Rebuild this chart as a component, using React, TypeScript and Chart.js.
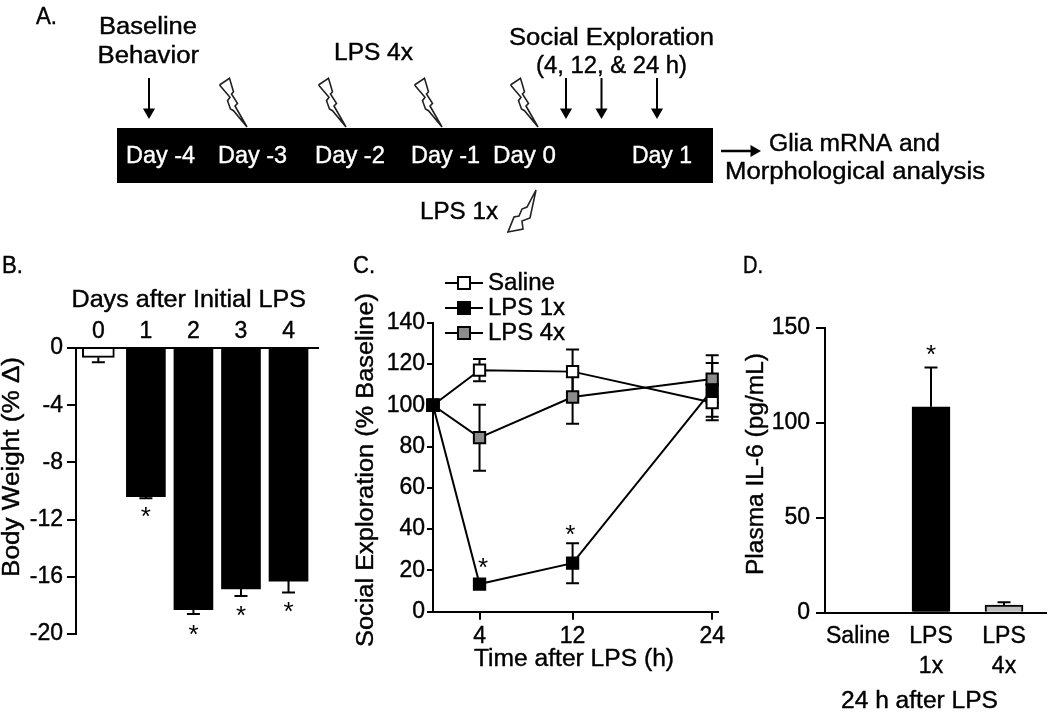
import React, { useEffect, useRef } from "react";
import { Chart, registerables } from "chart.js";

Chart.register(...registerables);
Chart.defaults.font.family = "'Liberation Sans', Arial, sans-serif";
Chart.defaults.color = "#000";

// ---------- data ----------
const bodyWeightDays = [0, 1, 2, 3, 4];
const bodyWeightMean = [-0.65, -10.4, -18.3, -16.85, -16.3];
const bodyWeightErrEnd = [-1.0, -10.5, -18.6, -17.35, -17.1];
const bodyWeightTicks = [0, -4, -8, -12, -16, -20];
const bodyWeightStars = [[1, -11.54], [2, -19.8], [3, -18.44], [4, -18.2]];

const hours = [0, 4, 12, 24];
const salineMean = [100, 117, 116.3, 101.3];
const salineSem = [0, 5.4, 10.7, 8.5];
const lps1xMean = [100, 13.4, 23.5, 107.5];
const lps1xSem = [0, 2, 9.7, 13];
const lps4xMean = [100, 84.3, 104, 112.7];
const lps4xSem = [0, 16, 13, 11.5];
const socialTicks = [0, 20, 40, 60, 80, 100, 120, 140];
const hourTicks = [4, 12, 24];
const socialStars = [[4.3, 23], [11.8, 39]];

const il6Groups = [["Saline"], ["LPS", "1x"], ["LPS", "4x"]];
const il6Index = [0, 1, 2];
const il6Mean = [0, 108.4, 4];
const il6ErrEnd = [0, 129, 5.5];
const il6Ticks = [0, 50, 100, 150];
const il6Stars = [[1, 137.9]];

// schematic of panel A, in page units
const timelineSpan = [117, 713];
const timelineRow = 155.5;
const behaviourArrows = [149, 566, 601.5, 657];
const boltTips = [247, 346, 442, 538];
const boltOutline = [[-27.5, -42], [-17.5, -48.7], [-13.5, -35.3], [-15.5, -33], [-9.5, -23.7], [-12, -21], [0, 0], [-13.5, -16.3], [-16.5, -18], [-19.5, -26.3], [-17, -29.7], [-27.5, -42]];
const lps1xBolt = [[536, 190], [527, 207], [522, 209], [519, 216], [514, 217], [508, 232], [523, 229], [522, 221], [530, 218], [536, 190]];
const outcomeArrow = [[721, 151], [754, 151]];

// ---------- helpers ----------
type Txt = { t: string; x0?: number; x1?: number; base: number; size?: number; color?: string; y0?: number; y1?: number };

const textPlugin = {
  id: "figureText",
  afterDatasetsDraw(chart: any, _a: any, opts: any) {
    const ctx = chart.ctx;
    (opts.items || []).forEach((it: Txt) => {
      ctx.save();
      ctx.font = `${it.size || 23}px 'Liberation Sans', Arial, sans-serif`;
      ctx.fillStyle = it.color || "#000";
      ctx.strokeStyle = it.color || "#000";
      ctx.lineWidth = 0.4;
      ctx.textAlign = "left";
      ctx.textBaseline = "alphabetic";
      const w = ctx.measureText(it.t).width;
      if (it.y0 !== undefined) {
        ctx.translate(it.base, it.y1);
        ctx.rotate(-Math.PI / 2);
        ctx.scale((it.y1! - it.y0) / w, 1);
      } else {
        ctx.translate(it.x0, it.base);
        ctx.scale((it.x1! - it.x0!) / w, 1);
      }
      ctx.fillText(it.t, 0, 0);
      ctx.strokeText(it.t, 0, 0);
      ctx.restore();
    });
    const stars = opts.stars || [];
    stars.forEach(([x, y]: number[]) => {
      ctx.save();
      ctx.font = "26px 'Liberation Sans', Arial, sans-serif";
      ctx.fillStyle = "#000";
      ctx.textAlign = "center";
      ctx.textBaseline = "alphabetic";
      ctx.fillText("*", chart.scales.x.getPixelForValue(x), chart.scales.y.getPixelForValue(y) + 12);
      ctx.restore();
    });
  },
};

const errorBarPlugin = {
  id: "errorBars",
  beforeDatasetsDraw(chart: any, _a: any, opts: any) {
    const ctx = chart.ctx;
    ctx.save();
    ctx.strokeStyle = "#000";
    ctx.lineWidth = 2;
    (opts.items || []).forEach(([x, lo, hi, fromBar]: number[]) => {
      const px = chart.scales.x.getPixelForValue(x);
      const a = chart.scales.y.getPixelForValue(lo);
      const b = chart.scales.y.getPixelForValue(hi);
      ctx.beginPath();
      ctx.moveTo(px, a);
      ctx.lineTo(px, b);
      ctx.moveTo(px - 6.5, a);
      ctx.lineTo(px + 6.5, a);
      if (!fromBar) {
        ctx.moveTo(px - 6.5, b);
        ctx.lineTo(px + 6.5, b);
      }
      ctx.stroke();
    });
    ctx.restore();
  },
};

const lineLegendPlugin = {
  id: "lineLegend",
  afterDatasetsDraw(chart: any, _a: any, opts: any) {
    if (!opts.rows) return;
    const ctx = chart.ctx;
    ctx.save();
    chart.data.datasets.forEach((ds: any, i: number) => {
      const y = opts.rows[i];
      ctx.strokeStyle = "#000";
      ctx.lineWidth = 2;
      ctx.beginPath();
      ctx.moveTo(445, y);
      ctx.lineTo(483, y);
      ctx.stroke();
      ctx.fillStyle = ds.pointBackgroundColor;
      ctx.fillRect(458, y - 6, 12, 12);
      ctx.strokeRect(458, y - 6, 12, 12);
    });
    ctx.restore();
  },
};

const AXIS_W = 70;
const AXIS_H = 70;
const PAGE_W = 1050;
const PAGE_H = 716;
const fixW = (s: any) => { s.width = AXIS_W; };
const fixH = (s: any) => { s.height = AXIS_H; };
const setTicks = (vals: number[]) => (s: any) => { s.ticks = vals.map((value) => ({ value })); };
const tickFont = { size: 23 };
const black = "#000";
const tickText = { font: tickFont, color: black, textStrokeColor: black, textStrokeWidth: 0.4 };

const base = { animation: false as const, responsive: false, events: [] as any[] };

function chartA(c: HTMLCanvasElement) {
  const line = (pts: number[][], extra: any = {}) => ({
    type: "line",
    data: pts.map(([x, y]) => ({ x, y })),
    borderColor: "#222",
    borderWidth: 1.6,
    pointRadius: 0,
    tension: 0,
    clip: false,
    ...extra,
  });
  const arrow = (pts: number[][], rot: number, w: number) =>
    line(pts, {
      borderColor: black,
      borderWidth: w,
      pointRadius: [0, 7],
      pointStyle: "triangle",
      pointRotation: rot,
      pointBackgroundColor: black,
      pointBorderColor: black,
      pointBorderWidth: 0,
    });
  const datasets: any[] = [
    line(timelineSpan.map((x) => [x, timelineRow]), { borderColor: black, borderWidth: 55, borderCapStyle: "butt" }),
    ...behaviourArrows.map((x) => arrow([[x, 78], [x, 112]], 180, 2)),
    ...boltTips.map((tx) => line(boltOutline.map(([dx, dy]) => [tx + dx, 127 + dy]))),
    line(lps1xBolt),
    arrow(outcomeArrow, 90, 2.5),
  ];
  return new Chart(c, {
    type: "line",
    data: { datasets },
    plugins: [textPlugin],
    options: {
      ...base,
      layout: { padding: 0, autoPadding: false },
      scales: {
        x: { type: "linear", display: false, min: 0, max: PAGE_W },
        y: { type: "linear", display: false, min: 0, max: PAGE_H, reverse: true },
      },
      plugins: {
        legend: { display: false },
        tooltip: { enabled: false },
        figureText: {
          items: [
            { t: "A.", x0: 36, x1: 57, base: 24 },
            { t: "Baseline", x0: 99, x1: 197, base: 34 },
            { t: "Behavior", x0: 97.5, x1: 199, base: 63 },
            { t: "LPS 4x", x0: 334, x1: 413, base: 60 },
            { t: "Social Exploration", x0: 509, x1: 714, base: 44.5 },
            { t: "(4, 12, & 24 h)", x0: 536, x1: 687, base: 73 },
            { t: "Day -4", x0: 126, x1: 195, base: 163, color: "#fff" },
            { t: "Day -3", x0: 218, x1: 287, base: 163, color: "#fff" },
            { t: "Day -2", x0: 315, x1: 385, base: 163, color: "#fff" },
            { t: "Day -1", x0: 411, x1: 480, base: 163, color: "#fff" },
            { t: "Day 0", x0: 493, x1: 556, base: 163, color: "#fff" },
            { t: "Day 1", x0: 632, x1: 692, base: 163, color: "#fff" },
            { t: "Glia mRNA and", x0: 769, x1: 940, base: 151, },
            { t: "Morphological analysis", x0: 725, x1: 985, base: 179 },
            { t: "LPS 1x", x0: 420, x1: 498, base: 218.5 },
          ],
        },
      },
    } as any,
  } as any);
}

function chartB(c: HTMLCanvasElement) {
  const [L, R, T, B] = [76, 318, 348, 634];
  return new Chart(c, {
    type: "bar",
    data: {
      datasets: [
        {
          label: "Day 0",
          data: [{ x: bodyWeightDays[0], y: bodyWeightMean[0] }],
          backgroundColor: "#fff",
          borderColor: black,
          borderWidth: 2,
          barThickness: 32,
          grouped: false,
        },
        {
          label: "Days 1-4",
          data: bodyWeightDays.slice(1).map((x, i) => ({ x, y: bodyWeightMean[i + 1] })),
          backgroundColor: black,
          barThickness: 39,
          grouped: false,
        },
      ],
    },
    plugins: [errorBarPlugin, textPlugin],
    options: {
      ...base,
      layout: { padding: { left: L - AXIS_W, right: PAGE_W - R, top: T - AXIS_H, bottom: PAGE_H - B }, autoPadding: false },
      scales: {
        x: {
          type: "linear",
          position: "top",
          offset: false,
          min: -0.47,
          max: 4.62,
          afterFit: fixH,
          afterBuildTicks: setTicks(bodyWeightDays),
          grid: { display: false, drawTicks: false, offset: false },
          border: { color: black, width: 2 },
          ticks: { ...tickText, padding: 3, autoSkip: false, maxRotation: 0 },
        },
        y: {
          type: "linear",
          min: -20,
          max: 0,
          afterFit: fixW,
          afterBuildTicks: setTicks(bodyWeightTicks),
          grid: { drawOnChartArea: false, tickLength: 9, color: black, lineWidth: 2 },
          border: { color: black, width: 2 },
          ticks: { ...tickText, padding: 4 },
        },
      },
      plugins: {
        legend: { display: false },
        tooltip: { enabled: false },
        errorBars: { items: bodyWeightDays.map((x, i) => [x, bodyWeightErrEnd[i], bodyWeightMean[i], 1]) },
        figureText: {
          stars: bodyWeightStars,
          items: [
            { t: "B.", x0: 2, x1: 23, base: 273 },
            { t: "Days after Initial LPS", x0: 71.5, x1: 306, base: 307 },
            { t: "Body Weight (% \u0394)", y0: 357, y1: 577, base: 18.5 },
          ],
        },
      },
    } as any,
  } as any);
}

function chartC(c: HTMLCanvasElement) {
  const [L, R, T, B] = [433, 718, 322.7, 611.7];
  const series = (label: string, vals: number[], fill: string, order: number) => ({
    label,
    data: hours.map((x, i) => ({ x, y: vals[i] })),
    borderColor: black,
    borderWidth: 2,
    tension: 0,
    clip: false,
    order,
    pointStyle: "rect",
    pointRadius: 8,
    pointBackgroundColor: fill,
    pointBorderColor: black,
    pointBorderWidth: 2,
  });
  const errs = (vals: number[], sem: number[]) =>
    hours.map((x, i) => [x, vals[i] - sem[i], vals[i] + sem[i]]).filter((_, i) => sem[i] > 0);
  return new Chart(c, {
    type: "line",
    data: {
      datasets: [
        series("Saline", salineMean, "#fff", 1),
        series("LPS 1x", lps1xMean, black, 0),
        series("LPS 4x", lps4xMean, "#8c8c8c", 2),
      ],
    },
    plugins: [errorBarPlugin, textPlugin, lineLegendPlugin],
    options: {
      ...base,
      layout: { padding: { left: L - AXIS_W, right: PAGE_W - R, top: T, bottom: PAGE_H - B - AXIS_H }, autoPadding: false },
      scales: {
        x: {
          type: "linear",
          min: 0,
          max: 24.5,
          afterFit: fixH,
          afterBuildTicks: setTicks(hourTicks),
          grid: { drawOnChartArea: false, tickLength: 8, color: black, lineWidth: 2 },
          border: { color: black, width: 2 },
          ticks: { ...tickText, padding: 3, autoSkip: false, maxRotation: 0 },
        },
        y: {
          type: "linear",
          min: 0,
          max: 140,
          afterFit: fixW,
          afterBuildTicks: setTicks(socialTicks),
          grid: { drawOnChartArea: false, tickLength: 6, color: black, lineWidth: 2 },
          border: { color: black, width: 2 },
          ticks: { ...tickText, padding: 2 },
        },
      },
      plugins: {
        legend: { display: false },
        tooltip: { enabled: false },
        lineLegend: { rows: [283, 308, 333] },
        errorBars: { items: [...errs(salineMean, salineSem), ...errs(lps1xMean, lps1xSem), ...errs(lps4xMean, lps4xSem)] },
        figureText: {
          stars: socialStars,
          items: [
            { t: "C.", x0: 353, x1: 375, base: 273 },
            { t: "Saline", x0: 488, x1: 555, base: 290 },
            { t: "LPS 1x", x0: 488, x1: 565, base: 314.5 },
            { t: "LPS 4x", x0: 488, x1: 565, base: 339.5 },
            { t: "Social Exploration (% Baseline)", y0: 293, y1: 647, base: 373 },
            { t: "Time after LPS (h)", x0: 474, x1: 674, base: 666 },
          ],
        },
      },
    } as any,
  } as any);
}

function chartD(c: HTMLCanvasElement) {
  const [L, R, T, B] = [825, 1046, 327.7, 612.7];
  return new Chart(c, {
    type: "bar",
    data: {
      datasets: [
        {
          label: "Plasma IL-6",
          data: il6Index.map((x, i) => ({ x, y: il6Mean[i] })),
          backgroundColor: [black, black, "#bdbdbd"],
          borderColor: black,
          borderWidth: 2,
          barThickness: 38,
        },
      ],
    },
    plugins: [errorBarPlugin, textPlugin],
    options: {
      ...base,
      layout: { padding: { left: L - AXIS_W, right: PAGE_W - R, top: T, bottom: PAGE_H - B - AXIS_H }, autoPadding: false },
      scales: {
        x: {
          type: "linear",
          offset: false,
          min: -0.452,
          max: 2.575,
          afterFit: fixH,
          afterBuildTicks: setTicks(il6Index),
          grid: { display: false, drawTicks: false, offset: false },
          border: { color: black, width: 2 },
          ticks: {
            ...tickText,
            font: { size: 23, lineHeight: 1.3 },
            padding: 9,
            autoSkip: false,
            maxRotation: 0,
            callback: (v: number) => il6Groups[v],
          },
        },
        y: {
          type: "linear",
          min: 0,
          max: 150,
          afterFit: fixW,
          afterBuildTicks: setTicks(il6Ticks),
          grid: { drawOnChartArea: false, tickLength: 9, color: black, lineWidth: 2 },
          border: { color: black, width: 2 },
          ticks: { ...tickText, padding: 6 },
        },
      },
      plugins: {
        legend: { display: false },
        tooltip: { enabled: false },
        errorBars: { items: il6Index.filter((i) => il6ErrEnd[i] > 0).map((i) => [i, il6ErrEnd[i], il6Mean[i], 1]) },
        figureText: {
          stars: il6Stars,
          items: [
            { t: "D.", x0: 743, x1: 763, base: 273 },
            { t: "Plasma IL-6 (pg/mL)", y0: 353, y1: 575, base: 762.5 },
            { t: "24 h after LPS", x0: 841, x1: 998, base: 708 },
          ],
        },
      },
    } as any,
  } as any);
}

const builders = [chartA, chartB, chartC, chartD];

export default function App() {
  const refs = useRef<(HTMLCanvasElement | null)[]>([]);
  useEffect(() => {
    const charts = builders.map((make, i) => make(refs.current[i]!));
    return () => charts.forEach((c) => c.destroy());
  }, []);
  return (
    <div style={{ position: "absolute", left: 0, top: 0, width: PAGE_W, height: PAGE_H, background: "#fff", overflow: "hidden" }}>
      {builders.map((_, i) => (
        <canvas
          key={i}
          ref={(el) => { refs.current[i] = el; }}
          width={PAGE_W}
          height={PAGE_H}
          style={{ position: "absolute", left: 0, top: 0, display: "block" }}
        />
      ))}
    </div>
  );
}
